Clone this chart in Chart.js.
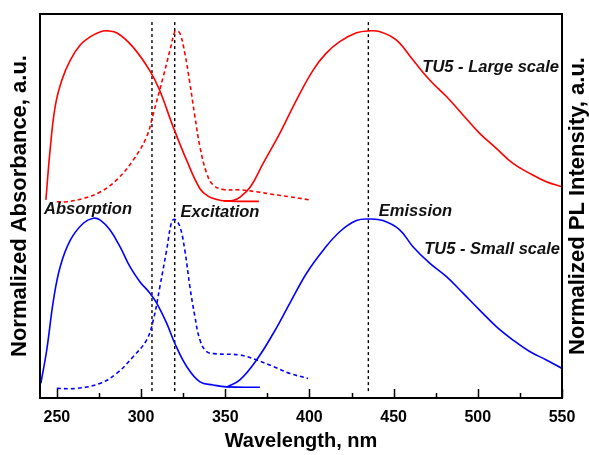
<!DOCTYPE html>
<html>
<head>
<meta charset="utf-8">
<script src="https://cdn.jsdelivr.net/npm/chart.js@4/dist/chart.umd.min.js"></script>
<style>
  html, body { margin: 0; padding: 0; background: #fff; }
  #wrap { width: 589px; height: 455px; }
</style>
</head>
<body>
<div id="wrap"><canvas id="c" width="589" height="455"></canvas></div>
<script>
// ---- data ----
const xTickValues = [250, 300, 350, 400, 450, 500, 550];
const xMinorTicks = [275, 325, 375, 425, 475, 525];

const redAbsWl  = [243.5, 246, 249, 253, 258, 264, 270, 276, 280, 286, 295, 305, 311, 319, 327, 335, 340, 345, 350, 360, 370];
const redAbsVal = [0.516, 0.646, 0.759, 0.828, 0.88, 0.92, 0.941, 0.954, 0.956, 0.95, 0.915, 0.854, 0.802, 0.707, 0.62, 0.545, 0.525, 0.517, 0.513, 0.512, 0.512];

const redExcWl  = [250, 256, 266, 276, 285.5, 295.4, 303.3, 307.3, 313.2, 317.2, 320, 321.1, 323.1, 326, 329, 332, 335, 339, 342.8, 348.8, 358.7, 368.6, 378.5, 388.4, 400];
const redExcVal = [0.511, 0.511, 0.52, 0.537, 0.568, 0.62, 0.68, 0.741, 0.837, 0.906, 0.954, 0.956, 0.95, 0.898, 0.82, 0.733, 0.654, 0.585, 0.555, 0.543, 0.542, 0.537, 0.53, 0.524, 0.516];

const redEmWl  = [349, 355, 359, 365, 372.5, 382.4, 392.3, 402.2, 410, 418, 428, 435.4, 442, 451.7, 461.5, 471.4, 481.4, 491.2, 501.1, 511, 520.9, 530.8, 540.7, 550];
const redEmVal = [0.513, 0.515, 0.524, 0.55, 0.611, 0.689, 0.776, 0.854, 0.898, 0.928, 0.951, 0.956, 0.954, 0.932, 0.88, 0.828, 0.785, 0.737, 0.689, 0.65, 0.611, 0.585, 0.563, 0.55];

const blueAbsWl  = [240.5, 244, 248, 252, 258, 265.7, 271.6, 275.6, 281.5, 287.5, 293.4, 299.3, 305.3, 309.3, 315.2, 320.1, 327.1, 335, 342.8, 350.8, 370.6];
const blueAbsVal = [0.038, 0.125, 0.255, 0.342, 0.411, 0.455, 0.468, 0.464, 0.438, 0.394, 0.342, 0.303, 0.273, 0.247, 0.195, 0.142, 0.082, 0.042, 0.034, 0.029, 0.028];

const blueExcWl  = [250, 262, 275.6, 285.5, 295.4, 303.3, 307.3, 311.2, 315.2, 318.2, 320.1, 323.1, 326, 329, 332, 335, 339, 344.9, 358.7, 368.6, 378.5, 388.4, 399.2];
const blueExcVal = [0.025, 0.025, 0.038, 0.064, 0.108, 0.151, 0.203, 0.29, 0.385, 0.459, 0.465, 0.446, 0.385, 0.29, 0.212, 0.151, 0.121, 0.115, 0.112, 0.099, 0.082, 0.064, 0.051];

const blueEmWl  = [350.8, 358.7, 368.6, 378.5, 388.4, 398.3, 408.2, 418, 427.9, 435.4, 443.7, 453.6, 461.5, 471.4, 481.4, 491.2, 501.1, 511, 520.9, 530.8, 540.7, 550];
const blueEmVal = [0.028, 0.047, 0.099, 0.168, 0.247, 0.325, 0.385, 0.433, 0.462, 0.466, 0.462, 0.438, 0.394, 0.351, 0.316, 0.273, 0.229, 0.186, 0.151, 0.121, 0.099, 0.077];

const markerWl = [306.5, 320, 435];
const markerSpan = [0.018, 0.979];

const annotations = [
  { text: 'Absorption',        x: 242.4, y: 0.49,  align: 'left'  },
  { text: 'Excitation',        x: 323.5, y: 0.482, align: 'left'  },
  { text: 'Emission',          x: 441.2, y: 0.485, align: 'left'  },
  { text: 'TU5 - Large scale', x: 548.2, y: 0.86,  align: 'right' },
  { text: 'TU5 - Small scale', x: 548.8, y: 0.387, align: 'right' }
];

const xTitle = 'Wavelength, nm';
const yLeftTitle = 'Normalized Absorbance, a.u.';
const yRightTitle = 'Normalized PL Intensity, a.u.';

// ---- helpers ----
const zip = (xs, ys) => xs.map((x, i) => ({ x: x, y: ys[i] }));
const FONT = '"Liberation Sans", Arial, sans-serif';

function curve(xs, ys, color, dashed) {
  return {
    data: zip(xs, ys),
    showLine: true,
    borderColor: color,
    borderWidth: 1.6,
    borderDash: dashed ? [4, 3] : [],
    pointRadius: 0,
    tension: 0.4,
    fill: false
  };
}

const datasets = [
  curve(redAbsWl, redAbsVal, '#ff0000', false),
  curve(redExcWl, redExcVal, '#ff0000', true),
  curve(redEmWl, redEmVal, '#ff0000', false),
  curve(blueAbsWl, blueAbsVal, '#0000ff', false),
  curve(blueExcWl, blueExcVal, '#0000ff', true),
  curve(blueEmWl, blueEmVal, '#0000ff', false)
];
markerWl.forEach(w => {
  datasets.push({
    data: markerSpan.map(v => ({ x: w, y: v })),
    showLine: true,
    borderColor: '#000',
    borderWidth: 1.4,
    borderDash: [3, 3],
    pointRadius: 0,
    fill: false
  });
});

const framePlugin = {
  id: 'frame',
  afterDatasetsDraw(chart) {
    const ctx = chart.ctx;
    const xs = chart.scales.x;
    ctx.save();
    ctx.fillStyle = '#111';
    ctx.font = 'italic bold 16.5px ' + FONT;
    ctx.textBaseline = 'middle';
    annotations.forEach(t => {
      ctx.textAlign = t.align;
      ctx.fillText(t.text, xs.getPixelForValue(t.x), chart.scales.y.getPixelForValue(t.y));
    });
    ctx.restore();
  },
  afterDraw(chart) {
    const ctx = chart.ctx;
    const a = chart.chartArea;
    const xs = chart.scales.x;
    ctx.save();
    ctx.strokeStyle = '#000';
    ctx.lineWidth = 2;
    ctx.strokeRect(a.left, a.top, a.right - a.left, a.bottom - a.top);
    ctx.lineWidth = 1.5;
    ctx.beginPath();
    xTickValues.forEach(v => {
      const px = Math.round(xs.getPixelForValue(v)) + 0.5;
      ctx.moveTo(px, a.bottom);
      ctx.lineTo(px, a.bottom - 9);
    });
    xMinorTicks.forEach(v => {
      const px = Math.round(xs.getPixelForValue(v)) + 0.5;
      ctx.moveTo(px, a.bottom);
      ctx.lineTo(px, a.bottom - 5);
    });
    ctx.stroke();
    ctx.fillStyle = '#000';
    ctx.font = 'bold 22px ' + FONT;
    ctx.textAlign = 'center';
    ctx.textBaseline = 'middle';
    ctx.translate(578, (a.top + a.bottom) / 2);
    ctx.rotate(-Math.PI / 2);
    ctx.fillText(yRightTitle, 0, 0);
    ctx.restore();
  }
};

Chart.defaults.color = '#000';
Chart.defaults.font.family = FONT;

new Chart(document.getElementById('c'), {
  type: 'scatter',
  data: { datasets: datasets },
  options: {
    responsive: false,
    animation: false,
    events: [],
    layout: { padding: { top: 14, left: 0, right: 0, bottom: 0 } },
    plugins: { legend: { display: false }, tooltip: { enabled: false } },
    scales: {
      x: {
        type: 'linear',
        min: 240,
        max: 550,
        afterBuildTicks: s => { s.ticks = xTickValues.map(v => ({ value: v })); },
        afterFit: s => { s.height = 57; },
        grid: { display: false, drawTicks: false },
        border: { display: false },
        ticks: { padding: 10, font: { size: 16, weight: 'bold' }, color: '#000', maxRotation: 0, autoSkip: false },
        title: { display: true, text: xTitle, font: { size: 20, weight: 'bold' }, padding: { top: 0, bottom: 2 }, color: '#000' }
      },
      y: {
        type: 'linear',
        position: 'left',
        min: 0,
        max: 1,
        afterFit: s => { s.width = 40; },
        grid: { display: false, drawTicks: false },
        border: { display: false },
        ticks: { display: false },
        title: { display: true, text: yLeftTitle, font: { size: 22, weight: 'bold' }, padding: { top: 7, bottom: 0 }, color: '#000' }
      },
      y2: {
        type: 'linear',
        position: 'right',
        min: 0,
        max: 1,
        afterFit: s => { s.width = 27; },
        grid: { display: false, drawTicks: false },
        border: { display: false },
        ticks: { display: false }
      }
    }
  },
  plugins: [framePlugin]
});
</script>
</body>
</html>
